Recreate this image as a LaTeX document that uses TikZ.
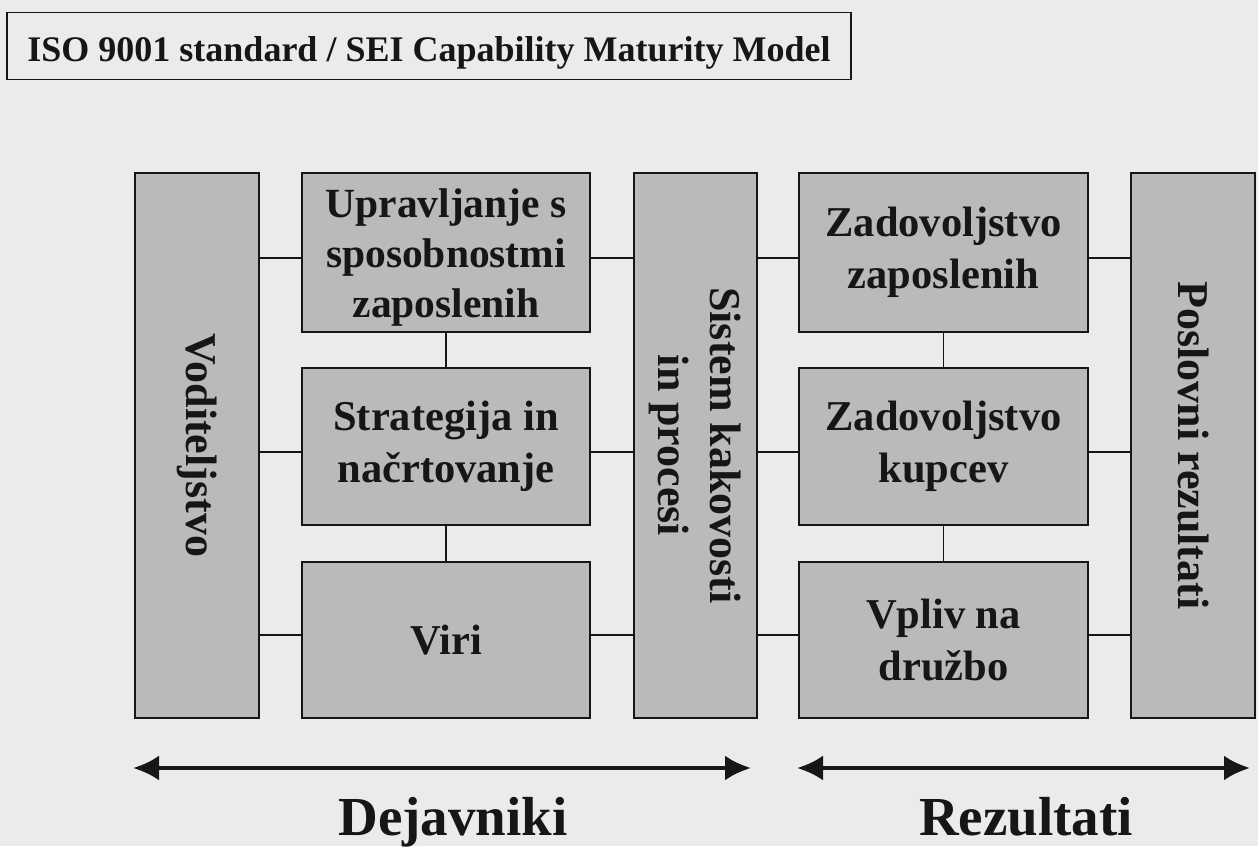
\documentclass[tikz,border=0pt]{standalone}
\usepackage{fontspec}
\setmainfont{Liberation Serif}
\usetikzlibrary{arrows.meta}
\definecolor{bgc}{RGB}{235,235,235}
\definecolor{boxc}{RGB}{186,186,186}
\definecolor{inkc}{RGB}{22,22,22}
\tikzset{
  hbox/.style={draw=inkc, line width=1.8pt, fill=boxc, inner sep=0pt, align=center,
     font=\fontsize{42.5}{52}\selectfont\bfseries, text=inkc},
  vbox/.style={draw=inkc, line width=1.8pt, fill=boxc, inner sep=0pt},
  vtext/.style={rotate=-90, inner sep=0pt, align=center,
     font=\fontsize{44}{52}\selectfont\bfseries, text=inkc},
  conn/.style={draw=inkc, line width=1.5pt},
  bigarrow/.style={draw=inkc, line width=4pt, {Latex[length=26pt,width=25pt]}-{Latex[length=26pt,width=25pt]}},
  biglabel/.style={font=\fontsize{55}{60}\selectfont\bfseries, text=inkc, inner sep=0pt, anchor=base},
  titlebox/.style={draw=inkc, line width=1.6pt, fill=bgc, inner sep=0pt,
     text height=30pt, text depth=0pt,
     font=\fontsize{36}{40}\selectfont\bfseries, text=inkc}
}
\begin{document}
\begin{tikzpicture}[x=1pt,y=-1pt]
\useasboundingbox (0,0) rectangle (1258,846);
\fill[bgc] (0,0) rectangle (1258,846);

% title
\node[titlebox, minimum width=844pt, minimum height=67pt] (title) at (429,46) {ISO 9001 standard / SEI Capability Maturity Model};

% left group
\node[vbox, minimum width=124pt, minimum height=545pt] (vod) at (197,445.5) {};
\node[vtext] (vodt) at (vod.center) {Voditeljstvo};
\node[hbox, minimum width=288pt, minimum height=159pt, font=\fontsize{41.5}{50}\selectfont\bfseries] (upr) at (446,252.5) {\rule{0pt}{38pt}Upravljanje s\\sposobnostmi\\zaposlenih};
\node[hbox, minimum width=288pt, minimum height=157pt] (str) at (446,446.5) {Strategija in\\načrtovanje};
\node[hbox, minimum width=288pt, minimum height=156pt] (viri) at (446,640) {Viri};
\node[vbox, minimum width=123pt, minimum height=545pt] (sis) at (695.5,445.5) {};
\node[vtext] (sist) at (sis.center) {Sistem kakovosti\\in procesi};

% right group
\node[hbox, minimum width=289pt, minimum height=159pt] (zz) at (943.5,252.5) {Zadovoljstvo\\zaposlenih};
\node[hbox, minimum width=289pt, minimum height=157pt] (zk) at (943.5,446.5) {Zadovoljstvo\\kupcev};
\node[hbox, minimum width=289pt, minimum height=156pt] (vp) at (943.5,640) {Vpliv na\\družbo};
\node[vbox, minimum width=124pt, minimum height=545pt] (pos) at (1193,445.5) {};
\node[vtext] (post) at (pos.center) {Poslovni rezultati};

% connector rows
\coordinate (r1) at (0,258);
\coordinate (r2) at (0,452);
\coordinate (r3) at (0,635);

\draw[conn] (vod.east |- r1) -- (upr.west |- r1);
\draw[conn] (vod.east |- r2) -- (str.west |- r2);
\draw[conn] (vod.east |- r3) -- (viri.west |- r3);
\draw[conn] (upr.east |- r1) -- (sis.west |- r1);
\draw[conn] (str.east |- r2) -- (sis.west |- r2);
\draw[conn] (viri.east |- r3) -- (sis.west |- r3);
\draw[conn] (sis.east |- r1) -- (zz.west |- r1);
\draw[conn] (sis.east |- r2) -- (zk.west |- r2);
\draw[conn] (sis.east |- r3) -- (vp.west |- r3);
\draw[conn] (zz.east |- r1) -- (pos.west |- r1);
\draw[conn] (zk.east |- r2) -- (pos.west |- r2);
\draw[conn] (vp.east |- r3) -- (pos.west |- r3);
\draw[conn] (upr.south) -- (str.north);
\draw[conn] (str.south) -- (viri.north);
\draw[conn] (zz.south) -- (zk.north);
\draw[conn] (zk.south) -- (vp.north);

% arrows
\coordinate (a1) at (133,768);
\coordinate (a2) at (751,768);
\coordinate (b1) at (797,768);
\coordinate (b2) at (1250,768);
\draw[bigarrow] (a1) -- (a2);
\draw[bigarrow] (b1) -- (b2);

\node[biglabel] (dej) at (453,835) {Dejavniki};
\node[biglabel] (rez) at (1026,835) {Rezultati};
\end{tikzpicture}
\end{document}
